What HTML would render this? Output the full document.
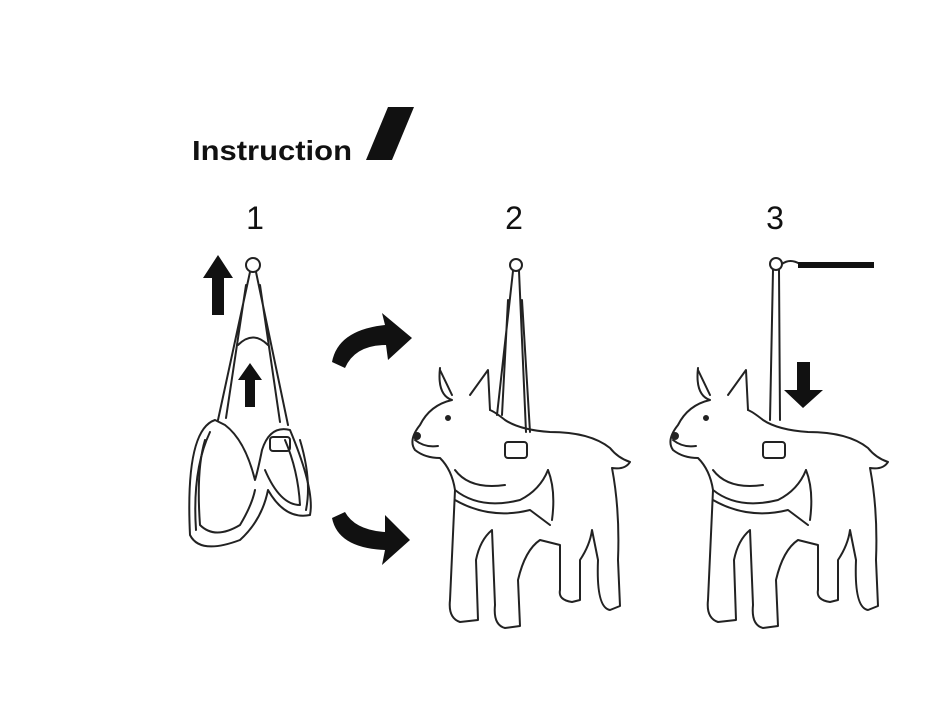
<!DOCTYPE html>
<html><head><meta charset="utf-8"><style>
html,body{margin:0;padding:0;background:#fff;}
body{width:944px;height:722px;overflow:hidden;}
</style></head><body>
<svg width="944" height="722" viewBox="0 0 944 722" xmlns="http://www.w3.org/2000/svg">
<rect width="944" height="722" fill="#fff"/>
<text x="192" y="160" font-family="Liberation Sans, sans-serif" font-weight="bold" font-size="28" fill="#111" textLength="160" lengthAdjust="spacingAndGlyphs">Instruction</text>
<polygon points="388,107 414,107 392,160 366,160" fill="#111"/>
<g font-family="Liberation Sans, sans-serif" font-size="32" fill="#111" text-anchor="middle">
<text x="255" y="229">1</text><text x="514" y="229">2</text><text x="775" y="229">3</text>
</g>
<g fill="none" stroke="#222" stroke-width="2" stroke-linejoin="round" stroke-linecap="round">
<circle cx="253" cy="265" r="7"/>
<path d="M250 272 L218 420 M256 272 L288 425 M246 285 L226 418 M260 285 L280 422"/>
<path d="M238 345 Q253 330 268 345"/>
<path d="M215 420 Q185 430 190 535 Q200 555 240 540 Q262 520 268 490 Q285 520 310 515 Q315 490 290 430 Q270 425 262 450 Q258 470 255 480 Q245 440 225 425 Z"/>
<path d="M205 440 Q196 470 200 525 Q215 540 240 525 Q252 505 255 490 M265 470 Q280 505 300 505 Q298 470 285 440"/>
<path d="M210 432 Q192 470 196 530 M300 440 Q312 480 306 510"/>
<rect x="270" y="437" width="20" height="14" rx="3"/>
<g id="dog">
<path d="M440 370 L452 395 M470 395 L488 370 L490 410"/>
<path d="M440 368 Q437 395 452 400 Q430 405 420 425 Q408 440 415 450 Q425 458 440 458 Q452 470 455 490 L450 600 Q448 618 460 622 L478 620 L476 560 Q480 540 492 530 L495 605 Q493 625 505 628 L520 626 L518 580 Q525 550 540 540 L560 545 L560 590 Q558 600 572 602 L580 600 L580 560 Q590 545 592 530 L598 560 Q596 608 610 610 L620 606 L618 560 Q620 510 612 468 Q625 470 630 462 Q618 458 610 448 Q590 432 550 432 Q520 430 505 420 Q495 412 490 410"/>
<path d="M455 470 Q470 490 505 485 M455 490 Q480 510 520 500 Q540 490 548 470"/>
<path d="M455 500 Q490 520 530 510 L550 525 M548 470 Q556 490 552 520"/>
<path d="M415 440 Q425 448 438 446"/>
<circle cx="417" cy="436" r="3" fill="#222"/>
<circle cx="448" cy="418" r="2" fill="#222"/>
<rect x="505" y="442" width="22" height="16" rx="3"/>
</g>
<circle cx="516" cy="265" r="6"/>
<path d="M513 271 L497 415 M519 271 L526 432 M508 300 L502 415 M522 300 L530 432"/>
<use href="#dog" transform="translate(258,0)"/>
<circle cx="776" cy="264" r="6"/>
<path d="M773 270 L770 420 M779 270 L780 420"/>
<path d="M782 264 Q790 258 800 264"/>
</g>
<rect x="798" y="262" width="76" height="6" fill="#111"/>
<polygon points="218,255 233,278 224,278 224,315 212,315 212,278 203,278" fill="#111"/>
<polygon points="250,363 262,380 255,380 255,407 245,407 245,380 238,380" fill="#111"/>
<polygon points="803,408 823,390 810,390 810,362 797,362 797,390 784,390" fill="#111"/>
<path d="M332 362 Q338 330 385 325 L382 313 L412 338 L388 360 L386 345 Q355 345 345 368 Z" fill="#111"/>
<path d="M332 518 Q338 548 385 550 L382 565 L410 540 L385 515 L385 532 Q355 530 345 512 Z" fill="#111"/>
</svg>
</body></html>
